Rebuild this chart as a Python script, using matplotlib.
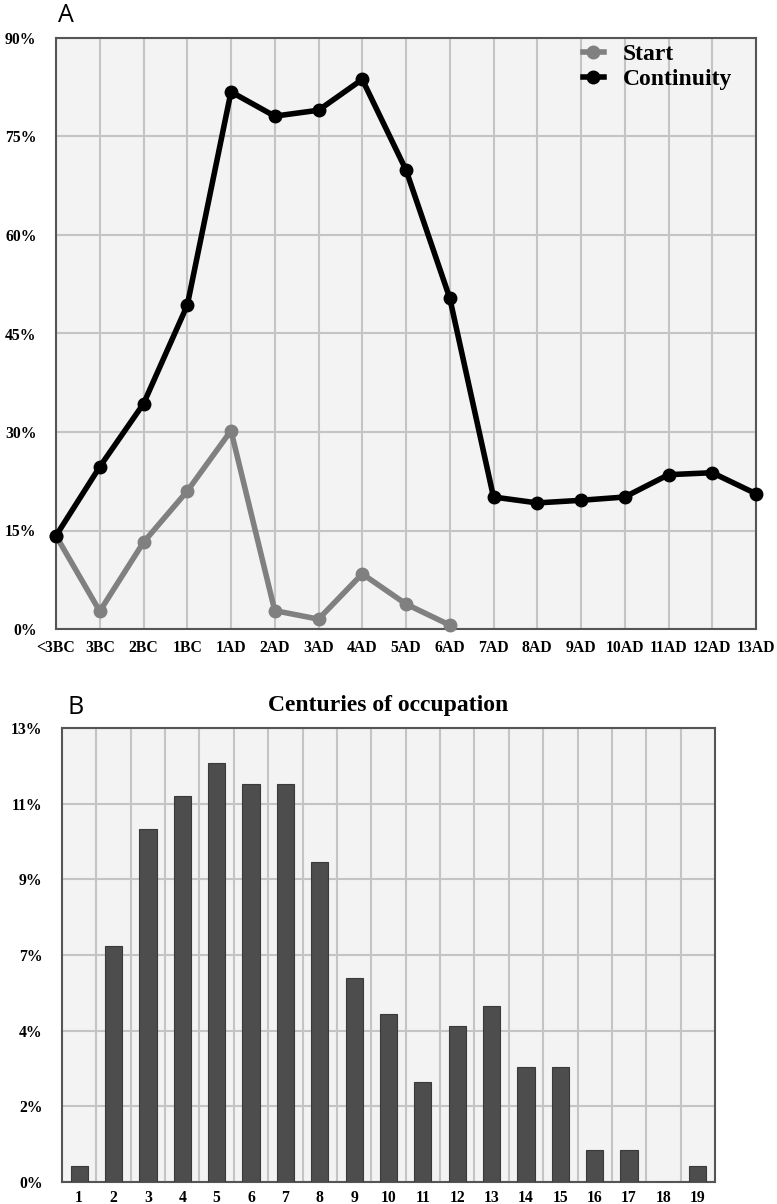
import numpy as np
import matplotlib
matplotlib.use('Agg')
import matplotlib.pyplot as plt

# Panel A data (percent of sites)
periods = ['<3BC', '3BC', '2BC', '1BC', '1AD', '2AD', '3AD', '4AD', '5AD',
           '6AD', '7AD', '8AD', '9AD', '10AD', '11AD', '12AD', '13AD']
start = [14.2, 2.7, 13.2, 21.0, 30.2, 2.8, 1.5, 8.4, 3.8, 0.6]
continuity = [14.2, 24.7, 34.3, 49.3, 81.8, 78.1, 79.0, 83.7, 69.9, 50.4,
              20.1, 19.2, 19.6, 20.1, 23.5, 23.8, 20.6]
a_ticks = [0, 15, 30, 45, 60, 75, 90]
a_labels = ['0%', '15%', '30%', '45%', '60%', '75%', '90%']

# Panel B data
centuries = list(range(1, 20))
occupation = [0.46, 6.75, 10.1, 11.05, 12.0, 11.4, 11.4, 9.17, 5.85, 4.8,
              2.87, 4.47, 5.05, 3.3, 3.3, 0.92, 0.92, 0.0, 0.46]
b_ticks = [13 * i / 6 for i in range(7)]
b_labels = ['0%', '2%', '4%', '7%', '9%', '11%', '13%']

W, H = 777, 1204
fig = plt.figure(figsize=(W / 100, H / 100), dpi=100)

tick_font = dict(family='Liberation Serif', weight='bold', size=11.3)
bg = '#f3f3f3'
grid_c = '#c4c4c4'
spine_c = '#555555'


def style_axes(ax):
    ax.set_facecolor(bg)
    for s in ax.spines.values():
        s.set_color(spine_c)
        s.set_linewidth(1.5)
    ax.tick_params(length=0)
    for lbl in ax.get_xticklabels() + ax.get_yticklabels():
        lbl.set_fontproperties(matplotlib.font_manager.FontProperties(**tick_font))


# ---- Panel A
ax1 = fig.add_axes([56 / W, 1 - 629 / H, 700 / W, 591 / H])
x = np.arange(len(periods))
ax1.plot(x[:len(start)], start, color='#808080', lw=4, marker='o', ms=9,
         label='Start', zorder=3, clip_on=False)
ax1.plot(x, continuity, color='black', lw=4, marker='o', ms=9,
         label='Continuity', zorder=4, clip_on=False)
ax1.set_xlim(0, len(periods) - 1)
ax1.set_ylim(0, 90)
ax1.set_xticks(x)
ax1.set_xticklabels(periods)
ax1.set_yticks(a_ticks)
ax1.set_yticklabels(a_labels)
ax1.grid(True, color=grid_c, lw=1.5, zorder=0)
ax1.set_axisbelow(True)
ax1.tick_params(axis='y', pad=14)
ax1.tick_params(axis='x', pad=8)
style_axes(ax1)
leg = ax1.legend(loc='upper right', bbox_to_anchor=(0.986, 1.015), frameon=False,
                 prop=dict(family='Liberation Serif', weight='bold', size=17),
                 handlelength=0.9, handletextpad=0.8, labelspacing=0.15,
                 borderaxespad=0.2)
fig.text(58 / W, 1 - 16 / H, 'A', fontsize=18, family='Open Sans',
         ha='left', va='center')

# ---- Panel B
ax2 = fig.add_axes([62 / W, 1 - 1182 / H, 653 / W, 454 / H])
ax2.bar(centuries, occupation, width=0.5, color='#4d4d4d',
        edgecolor='#3a3a3a', lw=0.8, zorder=3)
ax2.set_xlim(0.5, 19.5)
ax2.set_ylim(0, 13)
ax2.set_xticks(centuries)
ax2.set_xticklabels([str(c) for c in centuries])
ax2.set_xticks(np.arange(1.5, 19.5, 1), minor=True)
ax2.set_yticks(b_ticks)
ax2.set_yticklabels(b_labels)
ax2.grid(False, axis='x', which='major')
ax2.grid(True, axis='x', which='minor', color=grid_c, lw=1.5, zorder=0)
ax2.grid(True, axis='y', which='major', color=grid_c, lw=1.5, zorder=0)
ax2.set_axisbelow(True)
ax2.tick_params(axis='y', pad=14)
ax2.tick_params(axis='x', pad=6)
ax2.tick_params(which='minor', length=0)
style_axes(ax2)
ax2.set_title('Centuries of occupation', family='Liberation Serif',
              weight='bold', size=17, pad=12)
fig.text(67 / W, 1 - 707 / H, 'B', fontsize=18, family='Open Sans',
         ha='left', va='center')

fig.savefig('out.png', dpi=100)
